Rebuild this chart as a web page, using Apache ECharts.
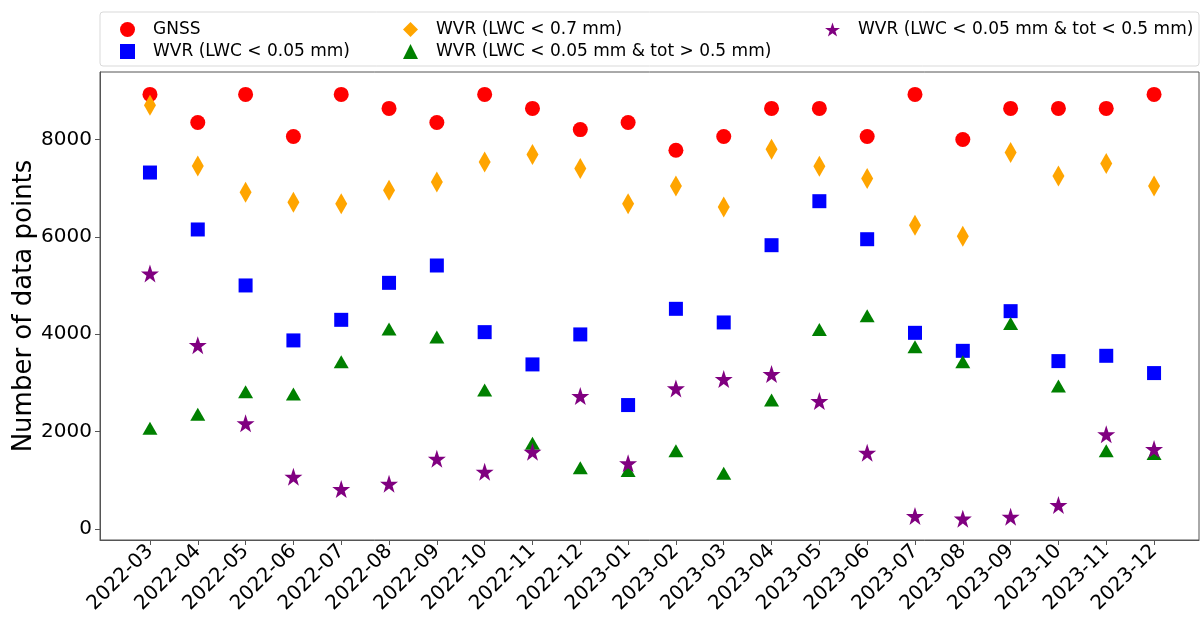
<!DOCTYPE html>
<html>
<head>
    <meta charset="utf-8" />
    <title>Number of data points</title>
    <script src="https://cdn.jsdelivr.net/npm/echarts@6/dist/echarts.min.js"></script>
</head>
<body style="margin:0">
<div id="main" style="width: 1200px; height: 617px"></div>
    <script type="text/javascript">
        // months on the x axis
        var months = ['2022-03', '2022-04', '2022-05', '2022-06', '2022-07', '2022-08', '2022-09',
            '2022-10', '2022-11', '2022-12', '2023-01', '2023-02', '2023-03', '2023-04', '2023-05',
            '2023-06', '2023-07', '2023-08', '2023-09', '2023-10', '2023-11', '2023-12'];
        var yTicks = [0, 2000, 4000, 6000, 8000];

        var gnss = [8928, 8352, 8928, 8064, 8928, 8640, 8352, 8928, 8640, 8205, 8352,
            7780, 8064, 8640, 8640, 8064, 8928, 8000, 8640, 8640, 8640, 8928];
        var wvr005 = [7323, 6153, 5003, 3874, 4297, 5057, 5413, 4044, 3381, 3997, 2546,
            4523, 4243, 5830, 6734, 5953, 4030, 3660, 4475, 3449, 3558, 3203];
        var wvr07 = [8704, 7458, 6918, 6710, 6680, 6960, 7130, 7540, 7692, 7405, 6680,
            7048, 6617, 7801, 7452, 7200, 6241, 6015, 7733, 7253, 7508, 7048];
        var wvrTotHigh = [2070, 2355, 2819, 2772, 3435, 4106, 3942, 2854, 1759, 1259, 1200,
            1608, 1143, 2648, 4100, 4380, 3743, 3435, 4223, 2936, 1608, 1550];
        var wvrTotLow = [5249, 3777, 2170, 1074, 821, 930, 1443, 1176, 1587, 2730, 1349,
            2888, 3079, 3182, 2628, 1566, 267, 212, 253, 493, 1944, 1642];

        var names = ['GNSS', 'WVR (LWC < 0.05 mm)', 'WVR (LWC < 0.7 mm)',
            'WVR (LWC < 0.05 mm & tot > 0.5 mm)', 'WVR (LWC < 0.05 mm & tot < 0.5 mm)'];

        var star = 'path://M50,0 L61.8,35.1 L98.1,35.1 L68.8,56.8 L79.4,91 L50,70 L20.6,91 L31.2,56.8 L1.9,35.1 L38.2,35.1 Z';

        function pts(arr) {
            return arr.map(function (v, i) { return [i, v]; });
        }

        var font = 'DejaVu Sans';
        var legText = { fontFamily: font, fontSize: 17, color: '#000', padding: [0, 0, 0, 13] };

        var myChart = echarts.init(document.getElementById('main'));
        myChart.setOption({
            backgroundColor: '#fff',
            animation: false,
            grid: { left: 100, top: 72, right: 1, bottom: 77, show: true, borderColor: '#555', borderWidth: 1,
                outerBoundsMode: 'none', containLabel: false },
            graphic: [{
                type: 'rect',
                shape: { x: 100, y: 12, width: 1099, height: 54, r: 3 },
                style: { fill: '#fff', stroke: '#d9d9d9', lineWidth: 1 },
                z: -1
            }],
            legend: [
                { data: [names[0], names[1]], orient: 'vertical', left: 115, top: 16, itemGap: 5,
                    itemWidth: 15, itemHeight: 15, textStyle: legText },
                { data: [names[2], names[3]], orient: 'vertical', left: 398, top: 16, itemGap: 5,
                    itemWidth: 15, itemHeight: 15, textStyle: legText },
                { data: [names[4]], orient: 'vertical', left: 820, top: 16, itemGap: 5,
                    itemWidth: 15, itemHeight: 15, textStyle: legText }
            ],
            xAxis: {
                type: 'value',
                min: -1.045,
                max: 21.94,
                splitLine: { show: false },
                axisLine: { onZero: false, lineStyle: { color: '#555', width: 1 } },
                axisTick: { show: true, length: 5, lineStyle: { color: '#555' },
                    customValues: months.map(function (m, i) { return i; }) },
                axisLabel: {
                    customValues: months.map(function (m, i) { return i; }),
                    formatter: function (v) { return months[Math.round(v)]; },
                    rotate: 45, fontFamily: font, fontSize: 20, color: '#000', margin: 8
                }
            },
            yAxis: {
                type: 'value',
                min: -226,
                max: 9388,
                name: 'Number of data points',
                nameLocation: 'middle',
                nameGap: 63,
                nameMoveOverlap: false,
                nameTextStyle: { fontFamily: font, fontSize: 26, color: '#000' },
                splitLine: { show: false },
                axisLine: { show: true, onZero: false, lineStyle: { color: '#555', width: 1 } },
                axisTick: { show: true, length: 5, lineStyle: { color: '#555' }, customValues: yTicks },
                axisLabel: { customValues: yTicks, formatter: function (v) { return String(v); },
                    fontFamily: font, fontSize: 20, color: '#000', margin: 8 }
            },
            series: [
                { name: names[0], type: 'scatter', data: pts(gnss), symbol: 'circle', symbolSize: 15,
                    itemStyle: { color: 'red', opacity: 1 }, z: 2 },
                { name: names[1], type: 'scatter', data: pts(wvr005), symbol: 'rect', symbolSize: 14,
                    itemStyle: { color: 'blue', opacity: 1 }, z: 3 },
                { name: names[2], type: 'scatter', data: pts(wvr07), symbol: 'diamond', symbolSize: [12, 21],
                    itemStyle: { color: 'orange', opacity: 1 }, z: 4 },
                { name: names[3], type: 'scatter', data: pts(wvrTotHigh), symbol: 'triangle', symbolSize: [15, 13],
                    itemStyle: { color: 'green', opacity: 1 }, z: 5 },
                { name: names[4], type: 'scatter', data: pts(wvrTotLow), symbol: star, symbolSize: 18,
                    itemStyle: { color: 'purple', opacity: 1 }, z: 6 }
            ]
        });
    </script>
</body>
</html>
